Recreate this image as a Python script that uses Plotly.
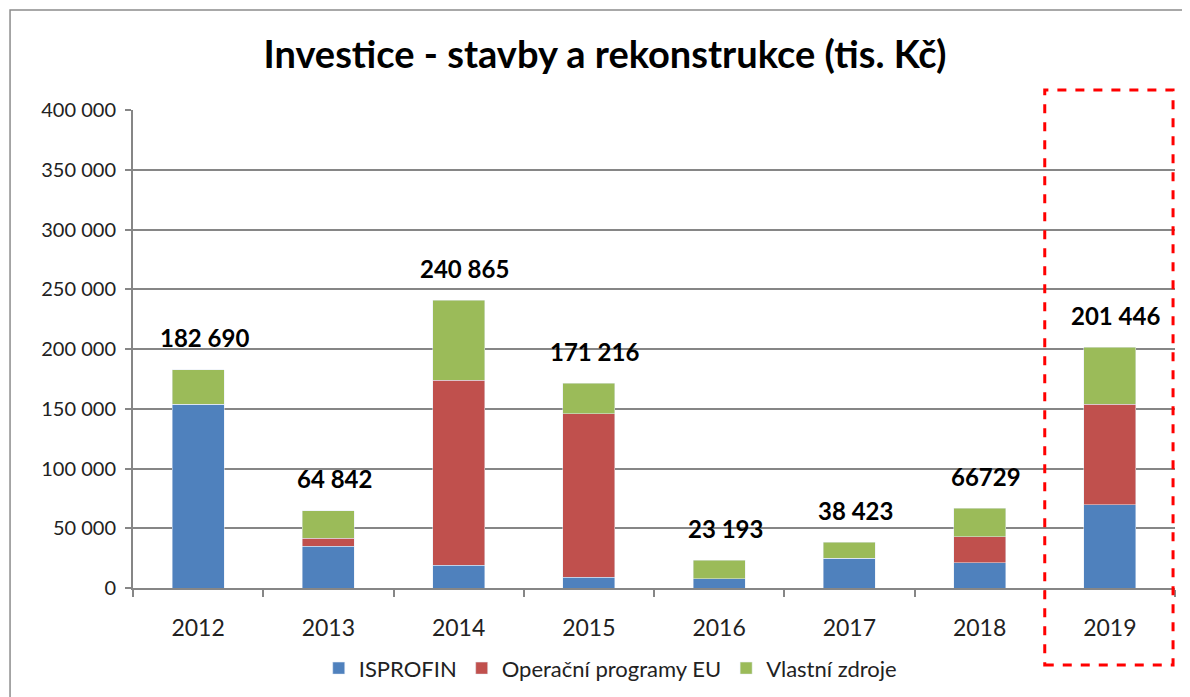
import plotly.graph_objects as go

years = ["2012", "2013", "2014", "2015", "2016", "2017", "2018", "2019"]
isprofin = [153600, 35000, 19100, 9200, 7600, 24900, 21000, 69500]
op_eu = [0, 6800, 154700, 136800, 0, 0, 21900, 84100]
vlastni = [29090, 23042, 67065, 25216, 15593, 13523, 23829, 47846]
totals = [182690, 64842, 240865, 171216, 23193, 38423, 66729, 201446]
total_labels = ["182 690", "64 842", "240 865", "171 216", "23 193", "38 423", "66729", "201 446"]
y_ticks = [0, 50000, 100000, 150000, 200000, 250000, 300000, 350000, 400000]
y_tick_labels = ["0", "50 000", "100 000", "150 000", "200 000", "250 000", "300 000", "350 000", "400 000"]

FONT = "Lato"
fig = go.Figure()
fig.add_bar(x=years, y=isprofin, name="ISPROFIN", marker_color="#4F81BD")
fig.add_bar(x=years, y=op_eu, name="Operační programy EU", marker_color="#C0504D")
fig.add_bar(x=years, y=vlastni, name="Vlastní zdroje", marker_color="#9BBB59")

for i, (tot, lab) in enumerate(zip(totals, total_labels)):
    fig.add_annotation(x=i, y=tot, text="<b>" + lab + "</b>", showarrow=False,
                       yanchor="middle", yshift=32, xshift=6,
                       font=dict(family=FONT, size=24, color="black"))

# highlight box around 2019
fig.add_shape(type="rect", xref="x", yref="paper", x0=6.5, x1=7.485, y0=-0.161, y1=1.042,
              line=dict(color="#FF0000", width=3, dash="dash"), fillcolor="rgba(0,0,0,0)")
# outer chart frame
fig.add_shape(type="rect", xref="paper", yref="paper", x0=-0.118, x1=1.03, y0=-0.3, y1=1.209,
              line=dict(color="#8C8C8C", width=1.5), fillcolor="rgba(0,0,0,0)", layer="below")

fig.update_layout(
    barmode="stack",
    bargap=0.6,
    width=1182, height=689,
    margin=dict(l=125, r=15, t=102, b=109, autoexpand=False),
    paper_bgcolor="white", plot_bgcolor="white",
    font=dict(family=FONT, color="#222222"),
    title=dict(text="<b>Investice - stavby a rekonstrukce (tis. Kč)</b>", x=0.505, xref="container",
               xanchor="center", y=0.932, yref="container", yanchor="middle",
               font=dict(family=FONT, size=38, color="black")),
    legend=dict(orientation="h", x=0.458, xanchor="center", y=-0.168, yanchor="middle",
                font=dict(family=FONT, size=22, color="#222222"), traceorder="normal",
                itemwidth=30, bgcolor="rgba(0,0,0,0)"),
    showlegend=True,
)
fig.update_xaxes(type="category", range=[-0.5, 7.5], tickson="boundaries", ticks="outside", ticklen=7,
                 tickcolor="#868686", tickwidth=1.5, showline=True, linecolor="#868686",
                 linewidth=2, tickfont=dict(family=FONT, size=23, color="#222222"),
                 ticklabelstandoff=18, showgrid=False, automargin=False)
fig.update_yaxes(range=[0, 400000], tickvals=y_ticks, ticktext=y_tick_labels,
                 ticks="outside", ticklen=6, tickcolor="#868686", tickwidth=1.5,
                 showline=True, linecolor="#868686", linewidth=2,
                 gridcolor="#868686", gridwidth=2, zeroline=False,
                 ticklabelstandoff=5, automargin=False,
                 tickfont=dict(family=FONT, size=20, color="#222222"))

fig.write_html("out.html")
